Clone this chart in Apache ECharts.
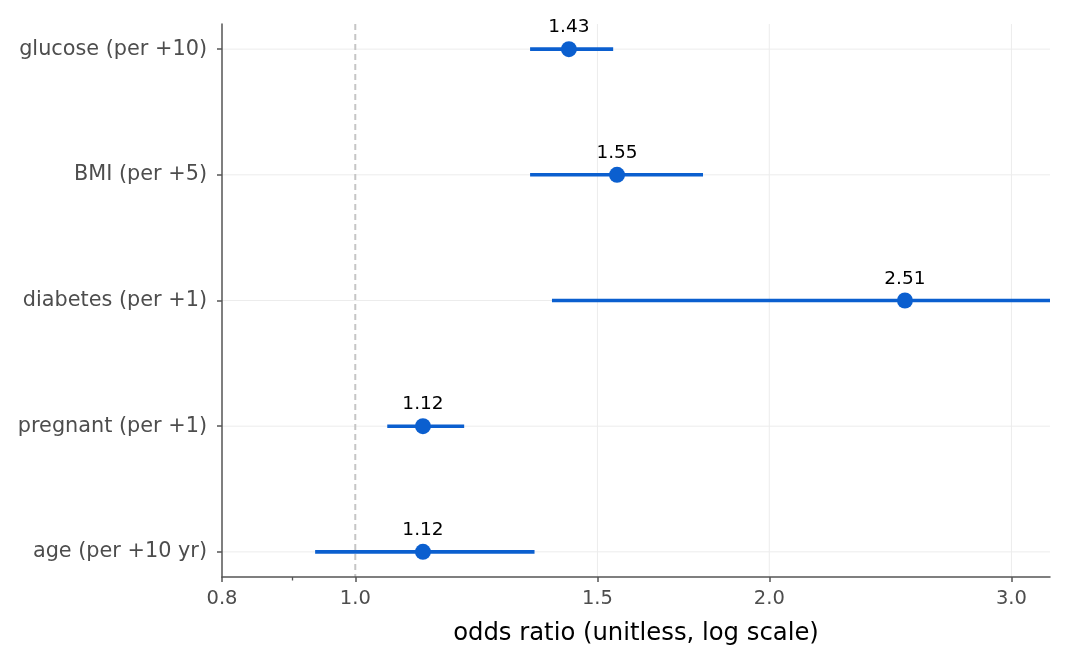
<!DOCTYPE html>
<html>
<head>
<meta charset="utf-8">
<script src="https://cdn.jsdelivr.net/npm/echarts@6/dist/echarts.min.js"></script>
<style>
  html, body { margin: 0; padding: 0; background: #fff; }
  #forest { width: 1068px; height: 662px; }
</style>
</head>
<body>
<div id="forest"></div>
<script>
  // rows, top to bottom
  var terms = ['glucose (per +10)', 'BMI (per +5)', 'diabetes (per +1)', 'pregnant (per +1)', 'age (per +10 yr)'];
  var oddsRatio = [1.43, 1.55, 2.51, 1.12, 1.12];
  var ciLow = [1.34, 1.34, 1.39, 1.055, 0.935];
  var ciHigh = [1.54, 1.79, 3.60, 1.20, 1.35];
  var xTicks = [0.8, 1.0, 1.5, 2.0, 3.0];
  var xMinorTicks = [0.9];
  var xGrid = [1.5, 2.0, 3.0];

  var lg = function (v) { return Math.log10(v); };
  var font = 'DejaVu Sans';
  var blue = '#0b5fcf';

  var ciData = terms.map(function (t, i) { return [lg(ciLow[i]), lg(ciHigh[i]), i]; });
  var pointData = terms.map(function (t, i) { return [lg(oddsRatio[i]), i, oddsRatio[i]]; });

  var option = {
    animation: false,
    textStyle: { fontFamily: font },
    grid: { left: 222, right: 18, top: 24, bottom: 85 },
    xAxis: [
      {
        type: 'value',
        min: lg(0.8),
        max: lg(3.2),
        name: 'odds ratio (unitless, log scale)',
        nameLocation: 'middle',
        nameGap: 45,
        nameTextStyle: { color: '#000', fontSize: 24.3, fontFamily: font },
        axisLine: { show: true, onZero: false, lineStyle: { color: '#555', width: 1.5 } },
        axisTick: { show: true, length: 5, customValues: xTicks.map(lg), lineStyle: { color: '#555', width: 1.5 } },
        axisLabel: {
          customValues: xTicks.map(lg),
          color: '#4d4d4d', fontSize: 19.5, fontFamily: font, margin: 12,
          formatter: function (v) { return Math.pow(10, v).toFixed(1); }
        },
        splitLine: { show: false }
      },
      {
        type: 'value',
        position: 'bottom',
        min: lg(0.8),
        max: lg(3.2),
        axisLine: { show: false, onZero: false },
        axisTick: { show: true, length: 3.5, customValues: xMinorTicks.map(lg), lineStyle: { color: '#555', width: 1.3 } },
        axisLabel: { show: false },
        splitLine: { show: false }
      }
    ],
    yAxis: {
      type: 'value',
      inverse: true,
      min: -0.2,
      max: 4.2,
      axisLine: { show: true, onZero: false, lineStyle: { color: '#555', width: 1.5 } },
      axisTick: { show: true, length: 5, customValues: [0, 1, 2, 3, 4], lineStyle: { color: '#555', width: 1.5 } },
      axisLabel: {
        customValues: [0, 1, 2, 3, 4],
        color: '#4d4d4d', fontSize: 20.8, fontFamily: font, margin: 15,
        padding: [6, 0, 0, 0],
        formatter: function (v) { return terms[Math.round(v)]; }
      },
      splitLine: { show: false }
    },
    series: [
      {
        type: 'custom',
        name: 'grid',
        silent: true,
        z: 0,
        renderItem: function (params, api) {
          var s = params.coordSys;
          var kids = [];
          terms.forEach(function (t, i) {
            var p = api.coord([lg(0.8), i]);
            kids.push({ type: 'line', shape: { x1: s.x, y1: p[1], x2: s.x + s.width, y2: p[1] }, style: { stroke: '#ececec', lineWidth: 1 } });
          });
          xGrid.forEach(function (g) {
            var p = api.coord([lg(g), 0]);
            kids.push({ type: 'line', shape: { x1: p[0], y1: s.y, x2: p[0], y2: s.y + s.height }, style: { stroke: '#ececec', lineWidth: 1 } });
          });
          var r = api.coord([lg(1.0), 0]);
          kids.push({ type: 'line', shape: { x1: r[0], y1: s.y, x2: r[0], y2: s.y + s.height }, style: { stroke: '#c6c6c6', lineWidth: 2, lineDash: [6, 4] } });
          return params.dataIndex === 0 ? { type: 'group', children: kids } : null;
        },
        data: [[0, 0]]
      },
      {
        type: 'custom',
        name: 'CI',
        clip: true,
        z: 2,
        renderItem: function (params, api) {
          var a = api.coord([api.value(0), api.value(2)]);
          var b = api.coord([api.value(1), api.value(2)]);
          return { type: 'line', shape: { x1: a[0], y1: a[1], x2: b[0], y2: b[1] }, style: { stroke: blue, lineWidth: 3.6 } };
        },
        encode: { x: [0, 1], y: 2 },
        data: ciData
      },
      {
        type: 'scatter',
        name: 'OR',
        z: 3,
        symbolSize: 16,
        itemStyle: { color: blue, opacity: 1 },
        label: {
          show: true, position: 'top', distance: 4,
          color: '#000', fontSize: 18.5, fontFamily: font,
          formatter: function (p) { return p.value[2].toFixed(2); }
        },
        data: pointData
      }
    ]
  };

  var chart = echarts.init(document.getElementById('forest'));
  chart.setOption(option);
</script>
</body>
</html>
